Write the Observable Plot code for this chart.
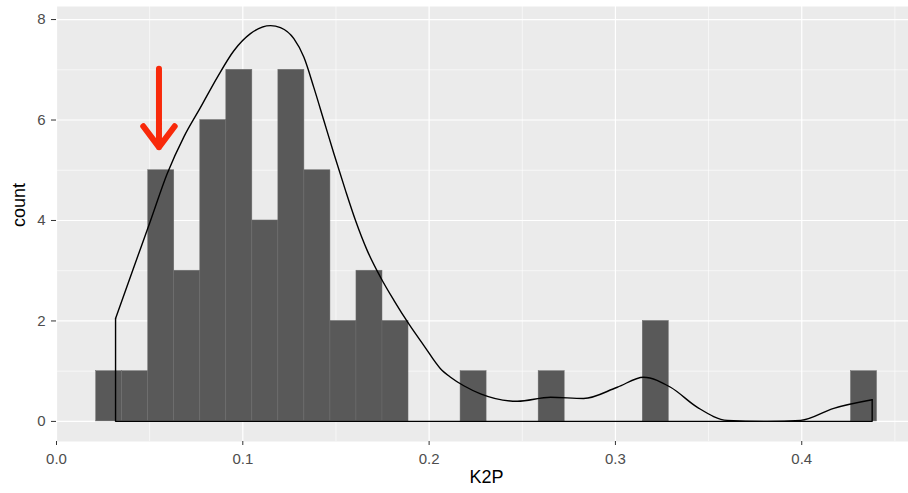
<!DOCTYPE html>
<html>
<head>
<meta charset="utf-8">
<script src="https://cdn.jsdelivr.net/npm/d3@7"></script>
<script src="https://cdn.jsdelivr.net/npm/@observablehq/plot@0.6"></script>
<style>
  html, body { margin: 0; padding: 0; background: #fff; }
  #chart svg { display: block; font-family: "Liberation Sans", Arial, Helvetica, sans-serif; }
</style>
</head>
<body>
<div id="chart"></div>
<script>
// Histogram: 30 bins (ggplot default)
const binStart = 0.0213;
const binWidth = 0.01397;
const counts = [1, 1, 5, 3, 6, 7, 4, 7, 5, 2, 3, 2, 0, 0, 1, 0, 0, 1, 0, 0, 0, 2, 0, 0, 0, 0, 0, 0, 0, 1];

// Density curve (scaled to counts)
const densityX = [0.0317, 0.0415, 0.0505, 0.0594, 0.0683, 0.0773, 0.0863, 0.0952, 0.1041, 0.1149, 0.1202, 0.1274, 0.1328, 0.1381, 0.1435, 0.1489, 0.1551, 0.1605, 0.1668, 0.1739, 0.1811, 0.1891, 0.1972, 0.2061, 0.2115, 0.2186, 0.2276, 0.2474, 0.2652, 0.2829, 0.3010, 0.3151, 0.3296, 0.3440, 0.3600, 0.3816, 0.3994, 0.4172, 0.4378];
const densityY = [2.05, 3.07, 4.00, 4.93, 5.66, 6.25, 6.85, 7.38, 7.72, 7.88, 7.84, 7.62, 7.25, 6.65, 5.99, 5.33, 4.60, 4.00, 3.40, 2.87, 2.41, 1.94, 1.51, 1.05, 0.88, 0.71, 0.55, 0.40, 0.48, 0.457, 0.68, 0.88, 0.68, 0.28, 0.02, 0.0, 0.02, 0.26, 0.43];

// Axis ticks
const xTicks = [0.0, 0.1, 0.2, 0.3, 0.4];
const xMinor = [0.05, 0.15, 0.25, 0.35, 0.45];
const yTicks = [0, 2, 4, 6, 8];
const yMinor = [1, 3, 5, 7];

// Red arrow annotation
const arrowX = [0.0550];
const arrowFrom = [7.02];
const arrowTo = [5.46];

const bars = counts.map((c, i) => ({
  x1: binStart + i * binWidth,
  x2: binStart + (i + 1) * binWidth,
  count: c
})).filter(d => d.count > 0);

const density = densityX.map((x, i) => ({x, y: densityY[i]}));
const n = densityX.length;
// closing outline of the density polygon (left edge, baseline, right edge)
const outline = [
  {x: densityX[0], y: densityY[0]},
  {x: densityX[0], y: 0},
  {x: densityX[n - 1], y: 0},
  {x: densityX[n - 1], y: densityY[n - 1]}
];
const arrows = arrowX.map((x, i) => ({x, y1: arrowFrom[i], y2: arrowTo[i]}));

const chart = Plot.plot({
  width: 908,
  height: 493,
  marginLeft: 56,
  marginRight: 0,
  marginTop: 6,
  marginBottom: 52,
  style: {background: "#ffffff", fontFamily: "Liberation Sans, Arial, sans-serif"},
  x: {domain: [0, 0.4573]},
  y: {domain: [-0.4, 8.26]},
  marks: [
    Plot.frame({fill: "#EBEBEB", stroke: null}),
    Plot.ruleX(xMinor, {stroke: "#ffffff", strokeWidth: 0.6}),
    Plot.ruleY(yMinor, {stroke: "#ffffff", strokeWidth: 0.6}),
    Plot.ruleX(xTicks, {stroke: "#ffffff", strokeWidth: 1.2}),
    Plot.ruleY(yTicks, {stroke: "#ffffff", strokeWidth: 1.2}),
    Plot.rectY(bars, {x1: "x1", x2: "x2", y1: 0, y2: "count", fill: "#595959", stroke: "#6e6e6e", strokeWidth: 0.5}),
    Plot.line(density, {x: "x", y: "y", stroke: "#000000", strokeWidth: 1.4, curve: "monotone-x"}),
    Plot.line(outline, {x: "x", y: "y", stroke: "#000000", strokeWidth: 1.4, strokeLinejoin: "miter"}),
    Plot.arrow(arrows, {x: "x", y1: "y1", y2: "y2", stroke: "#F8290A", strokeWidth: 6, headLength: 7, headAngle: 74, strokeLinecap: "round", strokeLinejoin: "round"}),
    Plot.axisX(xTicks, {tickSize: 4, tickPadding: 8, fontSize: 15, stroke: "#333333", fill: "#4d4d4d", tickFormat: d3.format(".1f"), label: null}),
    Plot.axisY(yTicks, {tickSize: 5, tickPadding: 6, fontSize: 15, stroke: "#333333", fill: "#4d4d4d", tickFormat: d3.format("d"), label: null}),
    Plot.text(["count"], {frameAnchor: "left", dx: -37, dy: 3, rotate: -90, fontSize: 18, fill: "#000000"}),
    Plot.text(["K2P"], {frameAnchor: "bottom", dy: 41, dx: 4, fontSize: 18, fill: "#000000"})
  ]
});
document.getElementById("chart").appendChild(chart);
</script>
</body>
</html>
